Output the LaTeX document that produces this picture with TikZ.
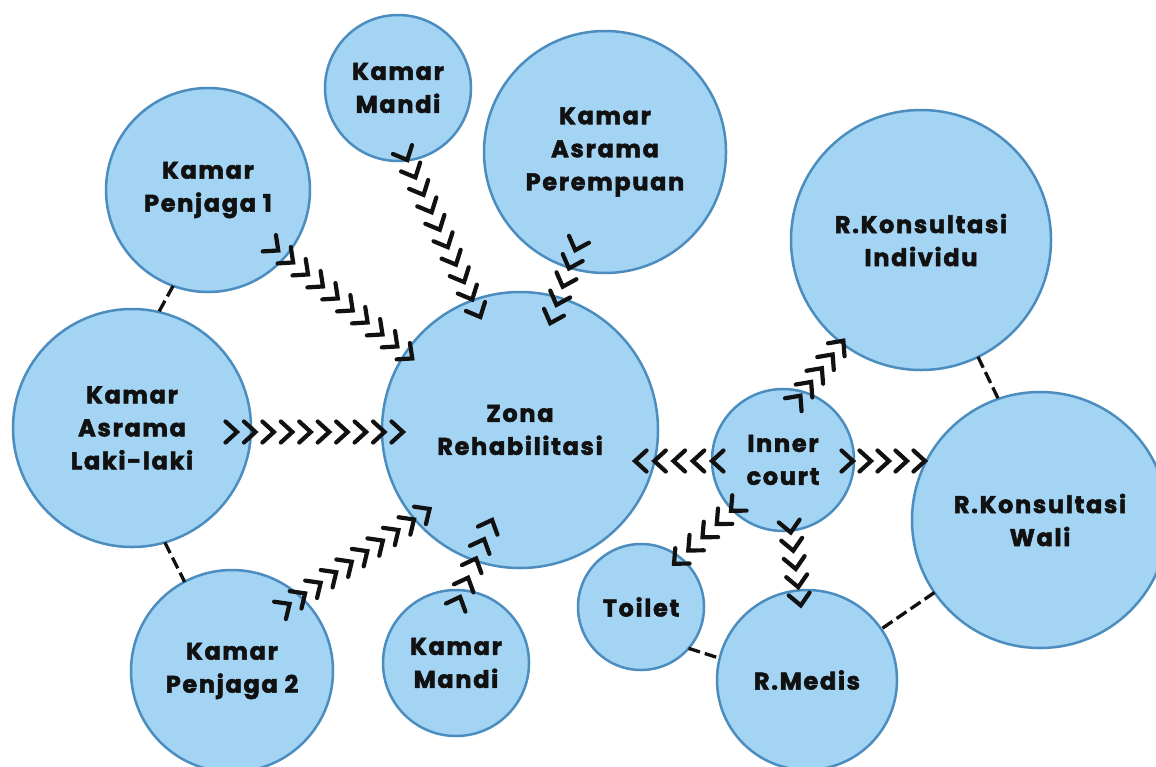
\documentclass[tikz,border=0pt]{standalone}
\usepackage{fontspec}
\setmainfont{Poppins}[LetterSpace=7, FakeBold=2.2]
\usetikzlibrary{calc,decorations.markings}
\definecolor{cfill}{HTML}{A4D4F4}
\definecolor{cline}{HTML}{4B8DBF}
\definecolor{ink}{HTML}{111111}
\tikzset{
 room/.style={circle, draw=cline, fill=cfill, line width=2.5pt, inner sep=0pt, outer sep=0pt,
   minimum size=#1, align=center, font=\fontsize{24}{33}\selectfont\bfseries, text=ink},
 chevchain/.style={decorate, decoration={markings,
   mark=between positions 0 and 1 step #1 with {\draw[ink, line width=4.2pt, line cap=round, line join=miter]
     (-6pt,10.5pt) -- (5.5pt,0pt) -- (-6pt,-10.5pt);}}},
 link/.style={draw=ink, line width=3.3pt, dash pattern=on 12pt off 5pt},
}
\begin{document}
\begin{tikzpicture}[x=1pt,y=-1pt]
\clip (0,0) rectangle (1156,766);
\fill[white] (0,0) rectangle (1156,766);
% rooms
\node[room=146pt] (mt) at (398,88) {Kamar\\Mandi};
\node[room=242pt] (per) at (605,152) {Kamar\\Asrama\\Perempuan};
\node[room=204pt] (pj1) at (208,190) {Kamar\\Penjaga 1};
\node[room=260pt] (ind) at (921,240) {R.Konsultasi\\Individu};
\node[room=238pt] (laki) at (132,428) {Kamar\\Asrama\\Laki-laki};
\node[room=276pt] (zona) at (520,430) {Zona\\Rehabilitasi};
\node[room=142pt] (inner) at (783,460) {Inner\\court};
\node[room=256pt] (wali) at (1040,520) {R.Konsultasi\\Wali};
\node[room=126pt] (toilet) at (641,607) {Toilet};
\node[room=180pt] (medis) at (807,680) {R.Medis};
\node[room=202pt] (pj2) at (232,671) {Kamar\\Penjaga 2};
\node[room=146pt] (mb) at (456,663) {Kamar\\Mandi};
% dashed links
\draw[link] (pj1.250) -- (laki.77);
\draw[link] (laki.286) -- (pj2.118);
\draw[link] (ind.296) -- (wali.109);
\draw[link] (wali) -- (medis);
\draw[link] (toilet.319) -- (medis.166);
% chevron chains
\path[chevchain=0.1111] ($(laki)+(99.5,4)$) -- ($(zona)+(-122.5,2)$);
\path[chevchain=0.1111] ($(pj1)+(66,57)$) -- ($(zona)+(-112,-75)$);
\path[chevchain=0.1111] ($(mt)+(7,67)$) -- ($(zona)+(-42,-118)$);
\path[chevchain=0.2499] ($(per)+(-28,93)$) -- ($(zona)+(32,-112)$);
\path[chevchain=0.1111] ($(pj2)+(53,-64)$) -- ($(zona)+(-95,82)$);
\path[chevchain=0.2499] ($(mb)+(2,-61)$) -- ($(zona)+(-30,95)$);
\path[chevchain=0.2499] ($(inner)+(-65.5,1)$) -- ($(zona)+(120.5,31)$);
\path[chevchain=0.2499] ($(inner)+(64.5,1)$) -- ($(wali)+(-120.5,-59)$);
\path[chevchain=0.2499] ($(inner)+(-48,47)$) -- ($(toilet)+(37,-47)$);
\path[chevchain=0.2499] ($(inner)+(7,67)$) -- ($(medis)+(-7,-80)$);
\path[chevchain=0.2499] ($(inner)+(14,-60)$) -- ($(ind)+(-81,105)$);
\end{tikzpicture}
\end{document}
